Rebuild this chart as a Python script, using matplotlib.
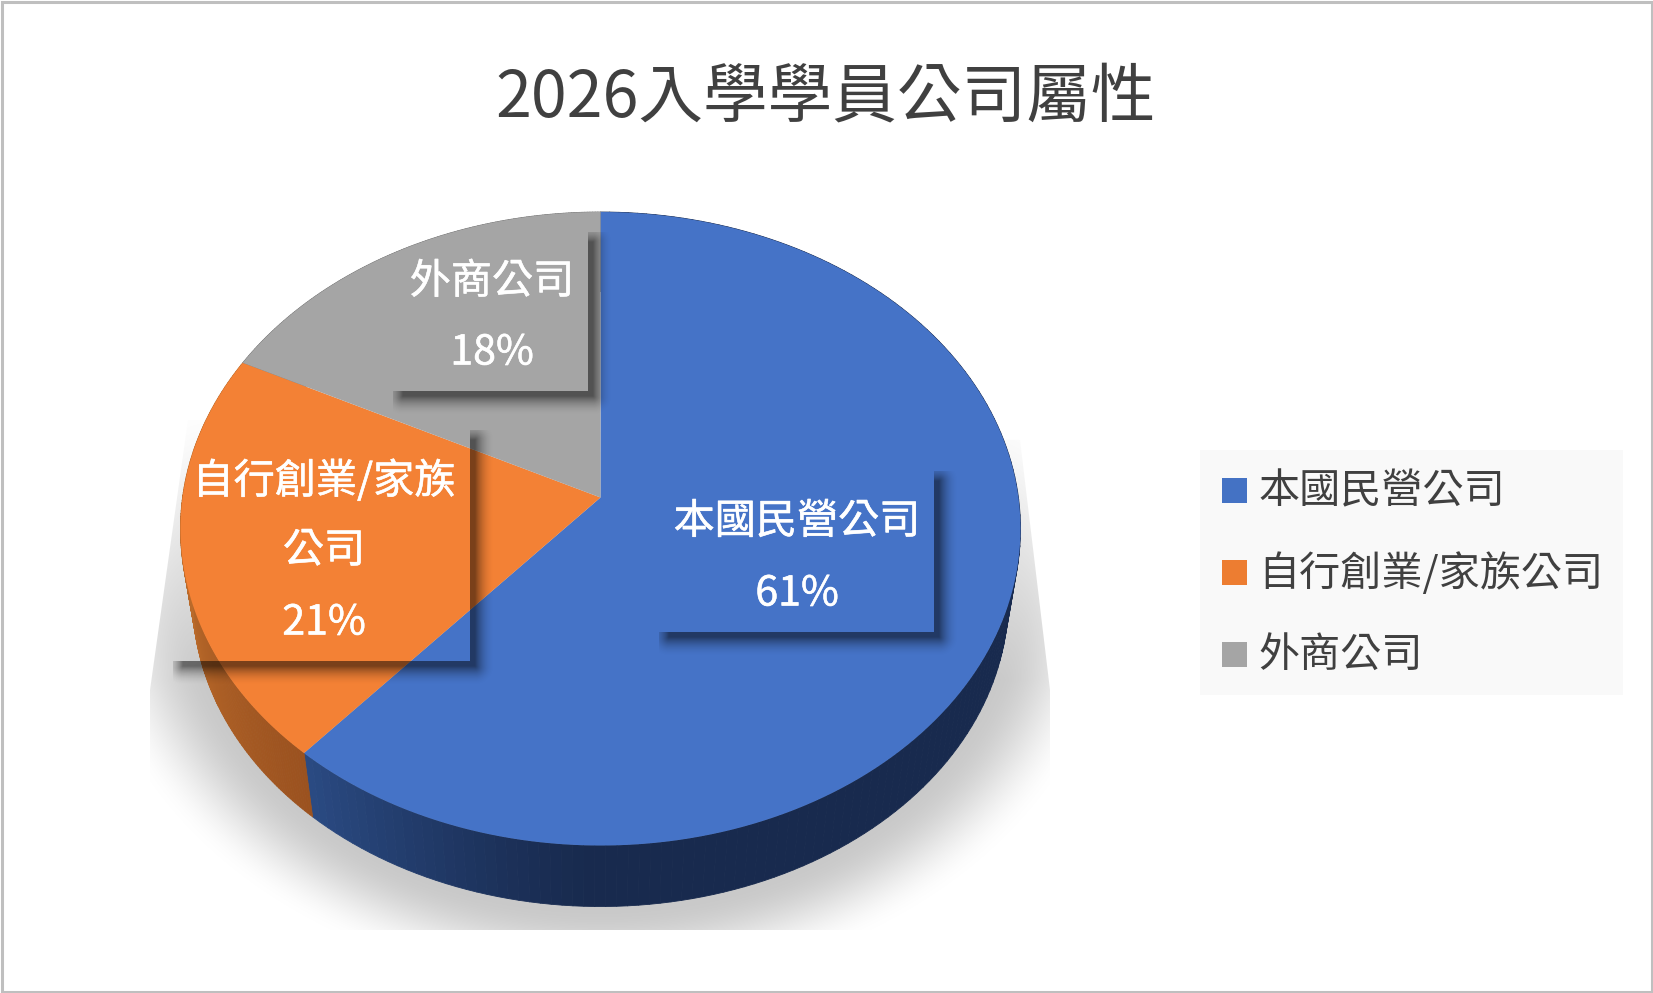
import numpy as np
import matplotlib
matplotlib.use("Agg")
import matplotlib.pyplot as plt
import matplotlib.patheffects as pe
from matplotlib.collections import PolyCollection
from matplotlib.patches import Polygon, Rectangle

plt.rcParams["font.family"] = ["Noto Sans CJK TC", "DejaVu Sans"]

TITLE = "2026入學學員公司屬性"
CATEGORIES = ["本國民營公司", "自行創業/家族公司", "外商公司"]
# printed as 61 / 21 / 18, the slice edges read a little finer than that
SHARES = [61.4, 21.0, 17.6]
LABEL_LINES = [["本國民營公司", "61%"],
               ["自行創業/家族", "公司", "21%"],
               ["外商公司", "18%"]]

W, H = 1653, 993
TOP_COLORS = ["#4573c7", "#f38135", "#a5a5a5"]
LEGEND_COLORS = ["#4472c4", "#ed7d31", "#a5a5a5"]
INK = "#404040"

# perspective disc, pixels: apex, far/near reach and half width of the top face
AX_, AY_ = 600.5, 497.5
FAR, NEAR, HALF = 285.5, 348.0, 420.0
K = (NEAR - FAR) / (NEAR + FAR)
B = FAR * (1 + K)
A = HALF * np.sqrt(1 - K ** 2)
DROP = 0.971
VANISH_Y = 2950.0

LABEL_BOXES = [(664, 476, 934, 632), (178, 435, 470, 661), (398, 237, 588, 391)]
LABEL_X = [797, 324, 492]
LABEL_Y = [[522, 594], [481, 551, 623], [282, 353]]
LEGEND_Y = [490.5, 572.5, 654.5]


def rim(theta):
    """Top rim point for clockwise angle from 12 o'clock (radians)."""
    d = 1 + K * np.cos(theta)
    return AX_ + A * np.sin(theta) / d, AY_ - B * np.cos(theta) / d


def lower(x, y):
    return AX_ + DROP * (x - AX_), VANISH_Y + DROP * (y - VANISH_Y)


def lerp(c0, c1, t):
    a, b = matplotlib.colors.to_rgb(c0), matplotlib.colors.to_rgb(c1)
    return tuple(p + (q - p) * t for p, q in zip(a, b))


def box_shadow(ax, box, off=5, blur=20, strength=0.5):
    x0, y0, x1, y1 = box
    xs = np.arange(x0 - 5, x1 + off + blur + 2) + 0.5
    ys = np.arange(y0 - 5, y1 + off + blur + 2) + 0.5
    gx, gy = np.meshgrid(xs, ys)
    dx = np.maximum(np.maximum(x0 + off - gx, gx - x1 - off), 0)
    dy = np.maximum(np.maximum(y0 + off - gy, gy - y1 - off), 0)
    alpha = strength * np.clip(1 - np.hypot(dx, dy) / blur, 0, 1) ** 2
    # only the right and bottom bands show
    alpha[(gx < x1) & (gy < y1)] = 0
    img = np.zeros(gx.shape + (4,))
    img[..., 3] = alpha
    ax.imshow(img, extent=(xs[0] - .5, xs[-1] + .5, ys[-1] + .5, ys[0] - .5),
              aspect="auto", zorder=6, interpolation="bilinear")


fig = plt.figure(figsize=(W / 100, H / 100), dpi=100, facecolor="white")
ax = fig.add_axes([0, 0, 1, 1])
ax.set_xlim(0, W)
ax.set_ylim(H, 0)
ax.axis("off")

# soft floor shadow, cut hard by the trapezoid like the original
gx, gy = np.meshgrid(np.arange(W) + .5, np.arange(H) + .5)
r = np.hypot((gx - 601) / 450, (gy - 590) / 350)
t = np.clip((1.15 - r) / 0.24, 0, 1)
fade = np.clip((gy - 420) / 260, 0, 1)
img = np.zeros((H, W, 4))
img[..., :3] = 0.79
img[..., 3] = t * t * (3 - 2 * t) * (0.05 + 0.95 * fade)
shade = ax.imshow(img, extent=(0, W, H, 0), aspect="auto", zorder=1)
clip = Polygon([(188, 420), (150, 690), (150, 930), (1050, 930), (1050, 690),
                (1020, 440)], transform=ax.transData, fill=False, ec="none")
ax.add_patch(clip)
shade.set_clip_path(clip)
ax.set_xlim(0, W)
ax.set_ylim(H, 0)

# slice edges come straight from the shares
edges = np.cumsum([0] + SHARES) / sum(SHARES) * 2 * np.pi

# side wall
side_polys, side_cols = [], []
for i in range(len(SHARES)):
    th = np.linspace(edges[i], edges[i + 1], 160)
    for a, b in zip(th[:-1], th[1:]):
        xa, ya = rim(a)
        xb, yb = rim(b)
        xc, yc = lower(xb, yb)
        xd, yd = lower(xa, ya)
        side_polys.append([(xa, ya), (xb, yb), (xc, yc), (xd, yd)])
        if i == 0:
            side_cols.append(lerp("#182a4e", "#2a4a82",
                                  np.clip((600 - xa) / 290, 0, 1) ** 1.3))
        elif i == 1:
            side_cols.append(lerp("#9a511f", "#ba6a2a",
                                  np.clip((760 - ya) / 200, 0, 1)))
        else:
            side_cols.append(lerp("#777777", "#777777", 0))
ax.add_collection(PolyCollection(side_polys, facecolors=side_cols,
                                 edgecolors=side_cols, linewidths=0.6, zorder=2))

# top face
for i, color in enumerate(TOP_COLORS):
    th = np.linspace(edges[i], edges[i + 1], 300)
    xs, ys = rim(th)
    pts = np.column_stack([np.r_[AX_, xs], np.r_[AY_, ys]])
    ax.add_patch(Polygon(pts, closed=True, fc=color, ec="none", zorder=3))

# data label boxes
for box in LABEL_BOXES:
    box_shadow(ax, box)
for x, ys, lines in zip(LABEL_X, LABEL_Y, LABEL_LINES):
    for y, line in zip(ys, lines):
        ax.text(x, y, line, color="white", fontsize=29.6, ha="center",
                va="center", zorder=8,
                path_effects=[pe.withStroke(linewidth=0.4, foreground="white")])

ax.set_xlim(0, W)
ax.set_ylim(H, 0)

ax.text(826, 98, TITLE, color=INK, fontsize=46.5, ha="center", va="center", zorder=8)

# legend
ax.add_patch(Rectangle((1200, 450), 423, 245, fc="#f9f9f9", ec="none", zorder=2))
for y, name, color in zip(LEGEND_Y, CATEGORIES, LEGEND_COLORS):
    ax.add_patch(Rectangle((1222, y - 12.5), 25, 25, fc=color, ec="none", zorder=3))
    ax.text(1258, y + 1, name, color=INK, fontsize=29.6, ha="left", va="center",
            zorder=3)

# frame
ax.add_patch(Rectangle((1.5, 1.5), W - 3, H - 3, fc="none", ec="#bfbfbf", lw=2.2,
                       zorder=9))

fig.savefig("out.png", dpi=100, facecolor="white")
